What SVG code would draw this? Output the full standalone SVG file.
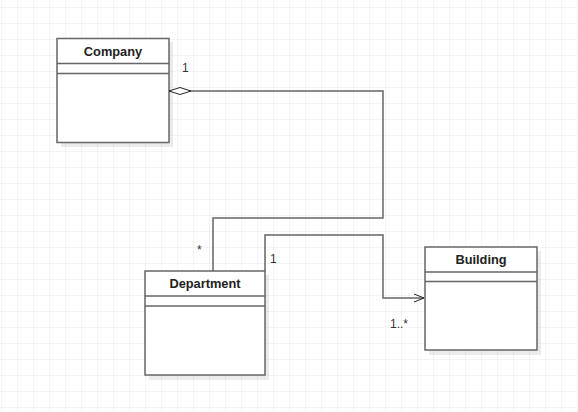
<svg xmlns="http://www.w3.org/2000/svg" width="578" height="412" viewBox="0 0 578 412">
<defs>
<pattern id="grid" x="1" y="7" width="16" height="16" patternUnits="userSpaceOnUse">
<path d="M0 0H16M0 0V16" fill="none" stroke="#e9e9e9" stroke-width="1"/>
</pattern>
<marker id="open" markerWidth="12" markerHeight="10" refX="11" refY="5" orient="auto" markerUnits="userSpaceOnUse">
<path d="M1 1L11 5L1 9" fill="none" stroke="#222" stroke-width="1"/>
</marker>
</defs>
<style>
.box{fill:#fff;stroke:#666;stroke-width:1.5}
.shadow{fill:#000;opacity:0.08}
.div{stroke:#666;stroke-width:1.5}
.title{font-family:"Liberation Sans",Arial,sans-serif;font-size:12.8px;font-weight:bold;fill:#222;text-anchor:middle}
.lbl{font-family:"Liberation Sans",Arial,sans-serif;font-size:12px;fill:#333}
.edge{fill:none;stroke:#666;stroke-width:1.5}
</style>
<rect width="578" height="412" fill="#fff"/>
<rect width="578" height="412" fill="url(#grid)"/>
<g id="Company">
<rect class="shadow" x="61" y="42" width="112" height="105"/>
<rect class="box" x="57" y="38.5" width="112" height="104"/>
<line class="div" x1="57" y1="63.5" x2="169" y2="63.5"/>
<line class="div" x1="57" y1="73.5" x2="169" y2="73.5"/>
<text class="title" x="113" y="56">Company</text>
</g>
<g id="Department">
<rect class="shadow" x="149" y="275" width="120" height="105"/>
<rect class="box" x="145" y="271" width="120" height="104"/>
<line class="div" x1="145" y1="296" x2="265" y2="296"/>
<line class="div" x1="145" y1="306" x2="265" y2="306"/>
<text class="title" x="205" y="288">Department</text>
</g>
<g id="Building">
<rect class="shadow" x="429" y="251" width="112" height="104"/>
<rect class="box" x="425" y="247" width="112" height="103"/>
<line class="div" x1="425" y1="272" x2="537" y2="272"/>
<line class="div" x1="425" y1="281.5" x2="537" y2="281.5"/>
<text class="title" x="481" y="264">Building</text>
</g>
<g id="connectors">
<path class="edge" d="M190 91H383V218H213V271"/>
<path d="M169 91L180 87.5L191 91L180 94.5Z" fill="#fff" stroke="#222" stroke-width="1"/>
<path class="edge" d="M265 271V235H383V298H424" marker-end="url(#open)"/>
<text class="lbl" x="182" y="72">1</text>
<text class="lbl" x="197" y="254">*</text>
<text class="lbl" x="270" y="263">1</text>
<text class="lbl" x="390" y="328">1..*</text>
</g>
</svg>
